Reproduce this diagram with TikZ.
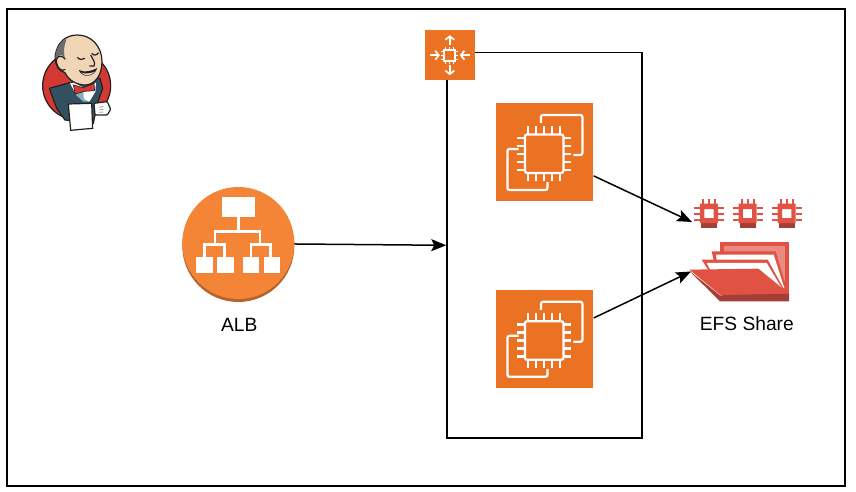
\documentclass[tikz,border=0pt]{standalone}
\usepackage{fontspec}
\setmainfont{Liberation Sans}
\usetikzlibrary{arrows.meta, positioning}

\definecolor{awsorange}{HTML}{EC7223}
\definecolor{alborange}{HTML}{F58536}
\definecolor{albshade}{HTML}{B5622C}
\definecolor{efsred}{HTML}{E05243}
\definecolor{efslight}{HTML}{E98B83}
\definecolor{efsdark}{HTML}{A43F38}
\definecolor{jred}{HTML}{D33833}
\definecolor{jskin}{HTML}{F0D6B7}
\definecolor{jblue}{HTML}{335061}
\definecolor{jshirt}{HTML}{81B0C4}
\definecolor{jink}{HTML}{231F20}
\definecolor{jgrey}{HTML}{6D6B6D}

\begin{document}
\begin{tikzpicture}[x=1pt, y=-1pt, >={Stealth[length=15pt,width=12pt,inset=3pt]}, font=\fontsize{19.2}{22}\selectfont]
  \tikzset{
    blank/.style={
      text centered},
    bigsquare/.style={
      fill=awsorange,
      minimum size=97.5pt,
      inner sep=0pt},
    smallsquare/.style={
      fill=awsorange,
      minimum size=50.5pt,
      inner sep=0pt},
    wire/.style={
      draw=black,
      line width=1.5pt},
    whiteline/.style={
      draw=white,
      line width=2.2pt},
    inkline/.style={
      draw=jink,
      line width=1.2pt},
    ec2icon/.pic={
      \draw[whiteline, rounded corners=2pt] (-3.7,-29) -- (-3.7,-37) -- (37.7,-37) -- (37.7,3) -- (28.7,3);
      \draw[whiteline, rounded corners=2pt] (-26,-3) -- (-37.3,-3) -- (-37.3,38) -- (2.7,38) -- (2.7,30);
      \draw[whiteline, rounded corners=2pt] (-19.7,-17.5) rectangle (18.7,20.9);
      \foreach \p in {-16,-8,0,8,16} {
        \draw[whiteline] (\p-0.5,-17.5) -- (\p-0.5,-25.5);
        \draw[whiteline] (\p-0.5,20.9) -- (\p-0.5,28.9);
        \draw[whiteline] (-19.7,\p+1.7) -- (-27.7,\p+1.7);
        \draw[whiteline] (18.7,\p+1.7) -- (26.7,\p+1.7);
      }
    },
    scaleicon/.pic={
      \draw[whiteline] (-5.5,-5.5) rectangle (5.5,5.5);
      \foreach \p in {-4,0,4} {
        \draw[white, line width=1.3pt] (\p,-5.5) -- (\p,-8.5);
        \draw[white, line width=1.3pt] (\p,5.5) -- (\p,8.5);
        \draw[white, line width=1.3pt] (-5.5,\p) -- (-8.5,\p);
        \draw[white, line width=1.3pt] (5.5,\p) -- (8.5,\p);
      }
      \draw[white, line width=1.7pt, -{Straight Barb[length=3.5pt,width=9pt]}] (0,-10) -- (0,-20);
      \draw[white, line width=1.7pt, -{Straight Barb[length=3.5pt,width=9pt]}] (0,10) -- (0,20);
      \draw[white, line width=1.7pt, -{Straight Barb[length=3.5pt,width=9pt]}] (-20,0) -- (-10,0);
      \draw[white, line width=1.7pt, -{Straight Barb[length=3.5pt,width=9pt]}] (20,0) -- (10,0);
    },
    chipicon/.pic={
      \fill[efsdark] (-8,5) rectangle (8,14.5);
      \fill[efsred, even odd rule] (-9,-10) rectangle (9,9.5) (-4.7,-4.5) rectangle (4.7,4.5);
      \foreach \p in {-6,0,6} {
        \draw[efsred, line width=2pt] (\p,-14.5) -- (\p,-10);
        \draw[efsred, line width=2pt] (-15,\p) -- (-9,\p);
        \draw[efsred, line width=2pt] (9,\p) -- (15,\p);
      }
    }}

  % outer frame and scaling group
  \useasboundingbox (0,0) rectangle (856,492);
  \node[draw=black, line width=1.2pt, minimum width=838pt, minimum height=477pt, inner sep=0pt] (frame) at (426,247.5) {};
  \node[wire, minimum width=195pt, minimum height=385.5pt, inner sep=0pt] (asg) at (544.5,245.3) {};

  \node[smallsquare] (scaling) at (449.8,55.2) {};
  \pic at (scaling) {scaleicon};

  \node[bigsquare] (ec2a) at (544.7,152) {};
  \node[bigsquare] (ec2b) at (544.7,338.8) {};
  \pic at (ec2a) {ec2icon};
  \pic at (ec2b) {ec2icon};

  % load balancer
  \fill[albshade] (238.3,246) circle (56pt);
  \node[circle, fill=alborange, minimum size=112pt, inner sep=0pt] (alb) at (238.3,243) {};
  \node[blank] (albtext) at (239.3,325) {ALB};
  \begin{scope}[shift={(170,175)}, x=0.3333pt, y=-0.3333pt]
    \fill[white] (156,65) rectangle (254,127);
    \fill[white] (78,245) rectangle (128,293);
    \fill[white] (141,245) rectangle (191,293);
    \fill[white] (218,245) rectangle (268,293);
    \fill[white] (281,245) rectangle (331,293);
    \draw[white, line width=2.4pt] (205,127) -- (205,170);
    \draw[white, line width=2.4pt] (135,208) -- (135,170) -- (270,170) -- (270,208);
    \draw[white, line width=2.4pt] (103,245) -- (103,208) -- (163,208) -- (163,245);
    \draw[white, line width=2.4pt] (243,245) -- (243,208) -- (302,208) -- (302,245);
  \end{scope}

  % jenkins
  \begin{scope}[shift={(20,20)}, x=0.3333pt, y=-0.3333pt]
    \draw[inkline, fill=jred] (170,197) circle (34pt);
    \draw[inkline, fill=jblue] (88,205) -- (150,188) -- (240,175) -- (248,205) -- (232,250) -- (220,310) -- (135,300) -- (110,265) -- cycle;
    \draw[inkline, fill=jskin] (106,105) .. controls (112,65) and (140,45) .. (172,45) .. controls (215,45) and (246,80) .. (246,125) .. controls (246,165) and (225,195) .. (195,195) .. controls (170,195) and (145,180) .. (135,158) .. controls (118,155) and (103,135) .. (106,105) -- cycle;
    \fill[jgrey] (106,112) .. controls (108,85) and (120,65) .. (140,57) .. controls (132,75) and (130,95) .. (134,112) .. controls (125,100) and (112,105) .. (110,120) -- cycle;
    \draw[inkline, fill=jskin] (136,118) .. controls (122,100) and (105,110) .. (110,130) .. controls (114,148) and (128,155) .. (136,148);
    \draw[inkline] (172,112) .. controls (178,120) and (188,120) .. (195,115);
    \draw[inkline] (215,100) .. controls (222,108) and (230,106) .. (236,98);
    \draw[inkline] (212,105) .. controls (218,118) and (228,128) .. (222,138) -- (208,138);
    \fill[jink] (176,150) .. controls (195,158) and (212,154) .. (232,144) .. controls (222,172) and (188,176) .. (176,150) -- cycle;
    \fill[jskin] (184,158) .. controls (197,163) and (212,160) .. (224,155) .. controls (214,168) and (194,169) .. (184,158) -- cycle;
    \fill[jshirt] (168,225) -- (200,215) -- (228,210) -- (208,245) -- (190,245) -- cycle;
    \fill[white] (150,190) -- (160,188) -- (196,205) -- (228,188) -- (226,215) -- (208,245) -- (198,240) -- (168,222) -- cycle;
    \fill[jshirt] (168,222) -- (190,212) -- (192,245) -- cycle;
    \draw[jink, line width=0.6pt, fill=jred] (160,195) -- (190,203) -- (222,190) -- (224,212) -- (194,214) -- (166,222) -- cycle;
    \draw[inkline, fill=white] (145,252) -- (215,250) -- (218,325) -- (152,331) -- cycle;
    \draw[inkline, fill=white, rounded corners=1pt] (222,250) -- (262,245) -- (272,268) -- (262,285) -- (225,285) -- cycle;
    \draw[jgrey, line width=0.5pt] (238,262) -- (250,260) (238,270) -- (250,268) (238,277) -- (250,276);
  \end{scope}

  % chips and share
  \pic at (709,213.5) {chipicon};
  \pic at (747.5,213.5) {chipicon};
  \pic at (786.7,213.5) {chipicon};
  \coordinate (chipin) at (692,222);
  \coordinate (efsin) at (691,271.5);
  \begin{scope}[shift={(685,238)}, x=0.3333pt, y=-0.3333pt]
    \fill[efsred] (105,12) -- (312,12) -- (312,170) -- (105,170) -- cycle;
    \fill[efslight] (117,23) -- (301,23) -- (301,150) -- (117,150) -- cycle;
    \fill[efsred] (80,40) -- (272,40) -- (305,152) -- (105,152) -- cycle;
    \fill[white] (93,50) -- (266,50) -- (298,150) -- (105,150) -- cycle;
    \fill[efsred] (50,65) -- (248,65) -- (296,152) -- (105,152) -- cycle;
    \fill[white] (65,75) -- (245,75) -- (290,150) -- (105,150) -- cycle;
    \fill[efsdark] (12,98) -- (105,172) -- (312,165) -- (312,190) -- (105,190) -- cycle;
    \fill[efsred] (13,95) -- (220,92) -- (312,167) -- (105,170) -- cycle;
  \end{scope}
  \node[blank] (efstext) at (746.8,323.5) {EFS Share};

  \path[wire, ->] (alb.-1) -- (asg.west);
  \path[wire, ->] (ec2a.-26) -- (chipin);
  \path[wire, ->] (ec2b.23) -- (efsin);

\end{tikzpicture}
\end{document}
